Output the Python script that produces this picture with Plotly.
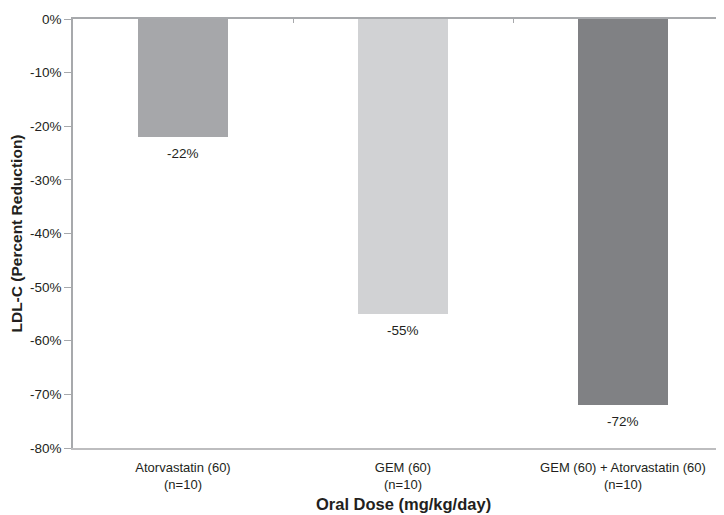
import plotly.graph_objects as go

categories = ["Atorvastatin (60)<br>(n=10)", "GEM (60)<br>(n=10)", "GEM (60) + Atorvastatin (60)<br>(n=10)"]
values = [-22, -55, -72]
value_labels = ["-22%", "-55%", "-72%"]
bar_colors = ["#a6a7aa", "#d1d2d4", "#808184"]
y_ticks = [0, -10, -20, -30, -40, -50, -60, -70, -80]
y_tick_labels = ["0%", "-10%", "-20%", "-30%", "-40%", "-50%", "-60%", "-70%", "-80%"]
x_title = "Oral Dose (mg/kg/day)"
y_title = "LDL-C (Percent Reduction)"

font_family = "Liberation Sans, Arial, sans-serif"
text_color = "#231f20"

fig = go.Figure()
fig.add_trace(go.Bar(
    x=[0, 1, 2], y=values, marker=dict(color=bar_colors, line=dict(width=0)),
    width=0.405, showlegend=False, hoverinfo="skip",
))
# invisible trace to activate the top axis
fig.add_trace(go.Scatter(x=[0], y=[0], xaxis="x2", mode="markers",
                         marker=dict(opacity=0), showlegend=False, hoverinfo="skip"))

for i, (v, lab) in enumerate(zip(values, value_labels)):
    fig.add_annotation(x=i, y=v, text=lab, showarrow=False, yanchor="top", yshift=-7,
                       font=dict(size=13.5, color=text_color, family=font_family))

# x-axis title centred on the full (partly cropped) category span
fig.add_annotation(x=1, xref="x", y=0, yref="paper", yanchor="top", yshift=-45,
                   text="<b>" + x_title + "</b>", showarrow=False,
                   font=dict(size=16.5, color=text_color, family=font_family))

# page body has an 8px default margin; compensate in figure size/margins
W, H = 716, 507
ml, mt, mb = 65, 11, 67
plot_w = W - ml
x_range = [-0.5, -0.5 + plot_w / 220]
fig.update_layout(
    width=W, height=H,
    margin=dict(l=ml, r=0, t=mt, b=mb, autoexpand=False),
    plot_bgcolor="white", paper_bgcolor="white",
    font=dict(family=font_family, size=13, color=text_color),
    xaxis=dict(
        range=x_range, tickvals=[0, 1, 2], ticktext=categories,
        showline=True, linecolor="#bdbdbf", linewidth=1.5, ticks="",
        showgrid=False, zeroline=False, automargin=False,
        ticklabelstandoff=7,
        tickfont=dict(size=13, color=text_color),
    ),
    xaxis2=dict(
        range=x_range, overlaying="x", side="top", anchor="y",
        tickvals=[0.5, 1.5], ticks="inside", ticklen=4, tickcolor="#a7a9ac",
        showticklabels=False, showline=True, linecolor="#a7a9ac", linewidth=1.5,
        showgrid=False, zeroline=False, automargin=False,
    ),
    yaxis=dict(
        range=[-80, 0], tickvals=y_ticks, ticktext=y_tick_labels,
        showline=True, linecolor="#a7a9ac", linewidth=1.5,
        ticks="outside", ticklen=7, tickcolor="#a7a9ac",
        showgrid=False, zeroline=False, automargin=False,
        tickfont=dict(size=13.5, color=text_color),
        title=dict(text="<b>" + y_title + "</b>", font=dict(size=15.5, color=text_color), standoff=4),
    ),
    bargap=0,
)

fig.write_html("out.html")
